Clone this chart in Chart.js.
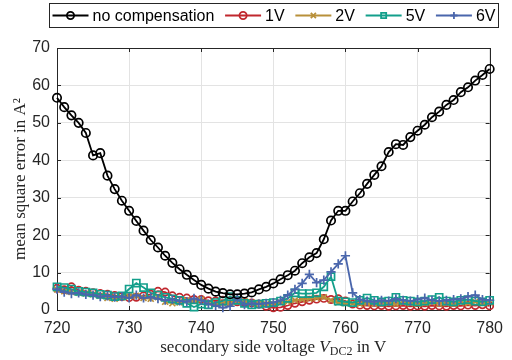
<!DOCTYPE html>
<html>
<head>
<meta charset="utf-8">
<script src="https://cdn.jsdelivr.net/npm/chart.js@4.4.0/dist/chart.umd.min.js"></script>
<style>
  html, body { margin: 0; padding: 0; background: #fff; }
</style>
</head>
<body>
<canvas id="mse_chart" width="512" height="360"></canvas>
<script>
// data
var voltages = [720,721,722,723,724,725,726,727,728,729,
                730,731,732,733,734,735,736,737,738,739,
                740,741,742,743,744,745,746,747,748,749,
                750,751,752,753,754,755,756,757,758,759,
                760,761,762,763,764,765,766,767,768,769,
                770,771,772,773,774,775,776,777,778,779,780];

var noComp = [56.7,54.2,52.0,50.0,47.3,41.3,41.9,35.9,32.3,29.2,
              26.5,23.8,21.2,18.7,16.7,14.5,12.6,10.9,9.4,8.0,
              6.7,5.7,4.9,4.5,4.2,4.2,4.4,4.7,5.5,6.2,
              7.1,8.2,9.3,10.5,12.5,14.1,15.2,18.9,23.9,26.5,
              26.5,29.0,31.2,33.7,36.1,38.4,42.2,44.3,44.1,46.2,
              47.9,49.5,51.5,53.0,54.8,56.1,58.2,59.5,61.3,62.8,64.4];

var comp1V = [5.8,5.4,6.2,5.3,5.0,4.6,4.4,4.2,3.9,3.6,
              3.3,3.4,3.8,4.2,5.0,4.8,3.8,3.4,3.2,2.8,
              2.8,2.5,2.4,2.6,2.4,2.2,2.0,1.9,1.6,1.0,
              0.6,0.7,1.2,1.8,2.2,2.6,2.9,3.1,2.8,3.0,
              2.4,1.6,1.3,1.2,1.1,1.2,1.0,1.1,1.2,1.0,
              1.1,1.0,1.2,1.1,1.0,1.2,1.1,1.3,1.2,1.4,1.1];

var comp2V = [5.5,5.0,4.8,4.6,4.4,4.2,3.8,3.2,3.0,3.4,
              3.6,3.8,3.2,3.0,3.4,2.2,1.8,2.0,2.6,2.4,
              2.8,2.0,1.6,1.8,1.8,2.2,2.4,2.0,1.8,1.6,
              1.6,2.0,2.2,2.6,2.8,3.0,3.2,3.4,2.6,2.0,
              1.8,1.8,1.6,1.8,1.6,2.0,1.8,1.6,2.0,1.8,
              1.6,1.8,2.0,1.6,1.8,1.6,2.0,1.8,2.2,1.8,2.0];

var comp5V = [6.2,6.0,5.6,5.0,4.8,4.6,4.2,4.0,3.6,3.8,
              5.6,7.2,6.0,4.6,4.0,3.4,3.0,2.6,1.8,0.8,
              1.6,1.4,2.0,2.4,3.6,2.6,1.8,1.4,1.6,1.8,
              2.0,2.4,3.1,4.6,4.4,4.4,4.6,6.2,8.9,2.4,
              2.2,2.0,2.6,3.2,2.6,2.2,2.4,3.4,2.6,2.4,
              2.2,2.4,2.8,3.4,2.4,2.2,2.6,2.8,2.4,2.2,2.6];

var comp6V = [5.6,4.8,4.4,4.6,4.2,4.0,3.6,3.8,3.4,3.6,
              3.2,4.0,3.2,3.4,3.0,2.6,2.8,2.4,2.2,3.1,
              2.6,1.6,1.2,0.6,1.0,3.1,1.4,1.8,1.6,1.8,
              2.0,2.6,4.0,5.5,7.1,9.5,7.3,8.0,10.2,12.3,
              14.5,4.6,2.8,2.4,2.2,2.6,2.4,3.0,2.6,2.4,
              2.8,3.2,2.6,2.4,2.6,2.8,3.0,3.6,4.0,2.8,2.6];

var xTicks = [720,730,740,750,760,770,780];
var yTicks = [0,10,20,30,40,50,60,70];

function pts(vals) {
    return voltages.map(function (v, i) { return { x: v, y: vals[i] }; });
}

function series(label, vals, color, style, radius, order) {
    return {
        label: label,
        data: pts(vals),
        borderColor: color,
        backgroundColor: color,
        borderWidth: 1.8,
        pointStyle: style,
        pointRadius: radius,
        pointHoverRadius: radius,
        pointBorderColor: color,
        pointBackgroundColor: 'rgba(0,0,0,0)',
        pointBorderWidth: 1.7,
        tension: 0,
        clip: false,
        order: order
    };
}

// box with inward ticks, drawn under the lines like matlab
var framePlugin = {
    id: 'frame',
    beforeDatasetsDraw: function (chart) {
        var ctx = chart.ctx, a = chart.chartArea;
        var xs = chart.scales.x, ys = chart.scales.y;
        ctx.save();
        ctx.strokeStyle = '#262626';
        ctx.lineWidth = 1;
        ctx.strokeRect(Math.round(a.left) + 0.5, Math.round(a.top) + 0.5,
                       Math.round(a.right - a.left), Math.round(a.bottom - a.top));
        ctx.beginPath();
        xTicks.forEach(function (t) {
            var px = Math.round(xs.getPixelForValue(t)) + 0.5;
            ctx.moveTo(px, a.bottom); ctx.lineTo(px, a.bottom - 4);
            ctx.moveTo(px, a.top); ctx.lineTo(px, a.top + 4);
        });
        yTicks.forEach(function (t) {
            var py = Math.round(ys.getPixelForValue(t)) + 0.5;
            ctx.moveTo(a.left, py); ctx.lineTo(a.left + 4, py);
            ctx.moveTo(a.right, py); ctx.lineTo(a.right - 4, py);
        });
        ctx.stroke();
        ctx.restore();
    }
};

// legend box + axis titles
var textPlugin = {
    id: 'texts',
    afterDraw: function (chart) {
        var ctx = chart.ctx, a = chart.chartArea;
        ctx.save();

        // legend
        var boxL = 49.5, boxT = 3.5, boxW = 449, boxH = 24, midY = 15.5;
        ctx.fillStyle = '#fff';
        ctx.fillRect(boxL, boxT, boxW, boxH);
        ctx.strokeStyle = '#262626';
        ctx.lineWidth = 1;
        ctx.strokeRect(boxL, boxT, boxW, boxH);
        ctx.font = '16px "Liberation Sans", Arial, sans-serif';
        ctx.textBaseline = 'middle';
        var sets = chart.data.datasets;
        var lineLen = 36, textGap = 4;
        var widths = sets.map(function (d) { return ctx.measureText(d.label).width; });
        var used = 0;
        widths.forEach(function (w) { used += lineLen + textGap + w; });
        var inner = boxW - 6;
        var gap = (inner - used) / (sets.length - 1);
        var x = boxL + 3;
        sets.forEach(function (d, i) {
            ctx.strokeStyle = d.borderColor;
            ctx.lineWidth = 1.8;
            ctx.beginPath();
            ctx.moveTo(x, midY); ctx.lineTo(x + lineLen, midY);
            ctx.stroke();
            ctx.fillStyle = 'rgba(0,0,0,0)';
            Chart.helpers.drawPoint(ctx, {
                pointStyle: d.pointStyle, radius: Math.min(d.pointRadius, 3.6),
                rotation: 0, borderWidth: 1.7
            }, x + lineLen / 2, midY);
            ctx.fillStyle = '#000';
            ctx.fillText(d.label, x + lineLen + textGap, midY + 1);
            x += lineLen + textGap + widths[i] + gap;
        });

        // x title: secondary side voltage V_DC2 in V
        var serif = '"Liberation Serif", "Times New Roman", serif';
        ctx.fillStyle = '#262626';
        ctx.textBaseline = 'alphabetic';
        ctx.textAlign = 'left';
        var parts = [
            { t: 'secondary side voltage ', f: '17px ' + serif, dy: 0 },
            { t: 'V', f: 'italic 17px ' + serif, dy: 0 },
            { t: 'DC2', f: '12px ' + serif, dy: 3 },
            { t: ' in V', f: '17px ' + serif, dy: 0 }
        ];
        var total = 0;
        parts.forEach(function (p) { ctx.font = p.f; p.w = ctx.measureText(p.t).width; total += p.w; });
        var tx = (a.left + a.right) / 2 - total / 2, ty = 352;
        parts.forEach(function (p) {
            ctx.font = p.f;
            ctx.fillText(p.t, tx, ty + p.dy);
            tx += p.w;
        });

        // y title
        ctx.translate(21, (a.top + a.bottom) / 2);
        ctx.rotate(-Math.PI / 2);
        ctx.textAlign = 'center';
        ctx.textBaseline = 'middle';
        ctx.font = '17px ' + serif;
        ctx.fillText('mean square error in A\u00b2', 0, 0);
        ctx.restore();
    }
};

var c1 = document.getElementById('mse_chart').getContext('2d');

var mse_chart = new Chart(c1, {
    type: 'line',
    data: {
        datasets: [
            series('no compensation', noComp, '#000000', 'circle', 4.2, 0),
            series('1V', comp1V, '#c0272d', 'circle', 3.6, 4),
            series('2V', comp2V, '#b8903a', 'crossRot', 4.2, 3),
            series('5V', comp5V, '#139f8b', 'rect', 5, 2),
            series('6V', comp6V, '#4a66ac', 'cross', 4.6, 1)
        ]
    },
    options: {
        responsive: false,
        animation: false,
        events: [],
        layout: {
            padding: { top: 48, right: 13, left: 0, bottom: 0 }
        },
        scales: {
            x: {
                type: 'linear',
                min: 720,
                max: 780,
                afterBuildTicks: function (s) { s.ticks = xTicks.map(function (v) { return { value: v }; }); },
                afterFit: function (s) { s.height = 50; },
                grid: { color: '#e3e3e3', drawTicks: false },
                border: { display: false },
                ticks: {
                    padding: 9,
                    color: '#262626',
                    font: { family: '"Liberation Sans", Arial, sans-serif', size: 16 }
                }
            },
            y: {
                min: 0,
                max: 70,
                afterBuildTicks: function (s) { s.ticks = yTicks.map(function (v) { return { value: v }; }); },
                afterFit: function (s) { s.width = 57; },
                grid: { color: '#e3e3e3', drawTicks: false },
                border: { display: false },
                ticks: {
                    padding: 7,
                    color: '#262626',
                    font: { family: '"Liberation Sans", Arial, sans-serif', size: 16 }
                }
            }
        },
        plugins: {
            legend: { display: false },
            tooltip: { enabled: false }
        }
    },
    plugins: [framePlugin, textPlugin]
});
</script>
</body>
</html>
